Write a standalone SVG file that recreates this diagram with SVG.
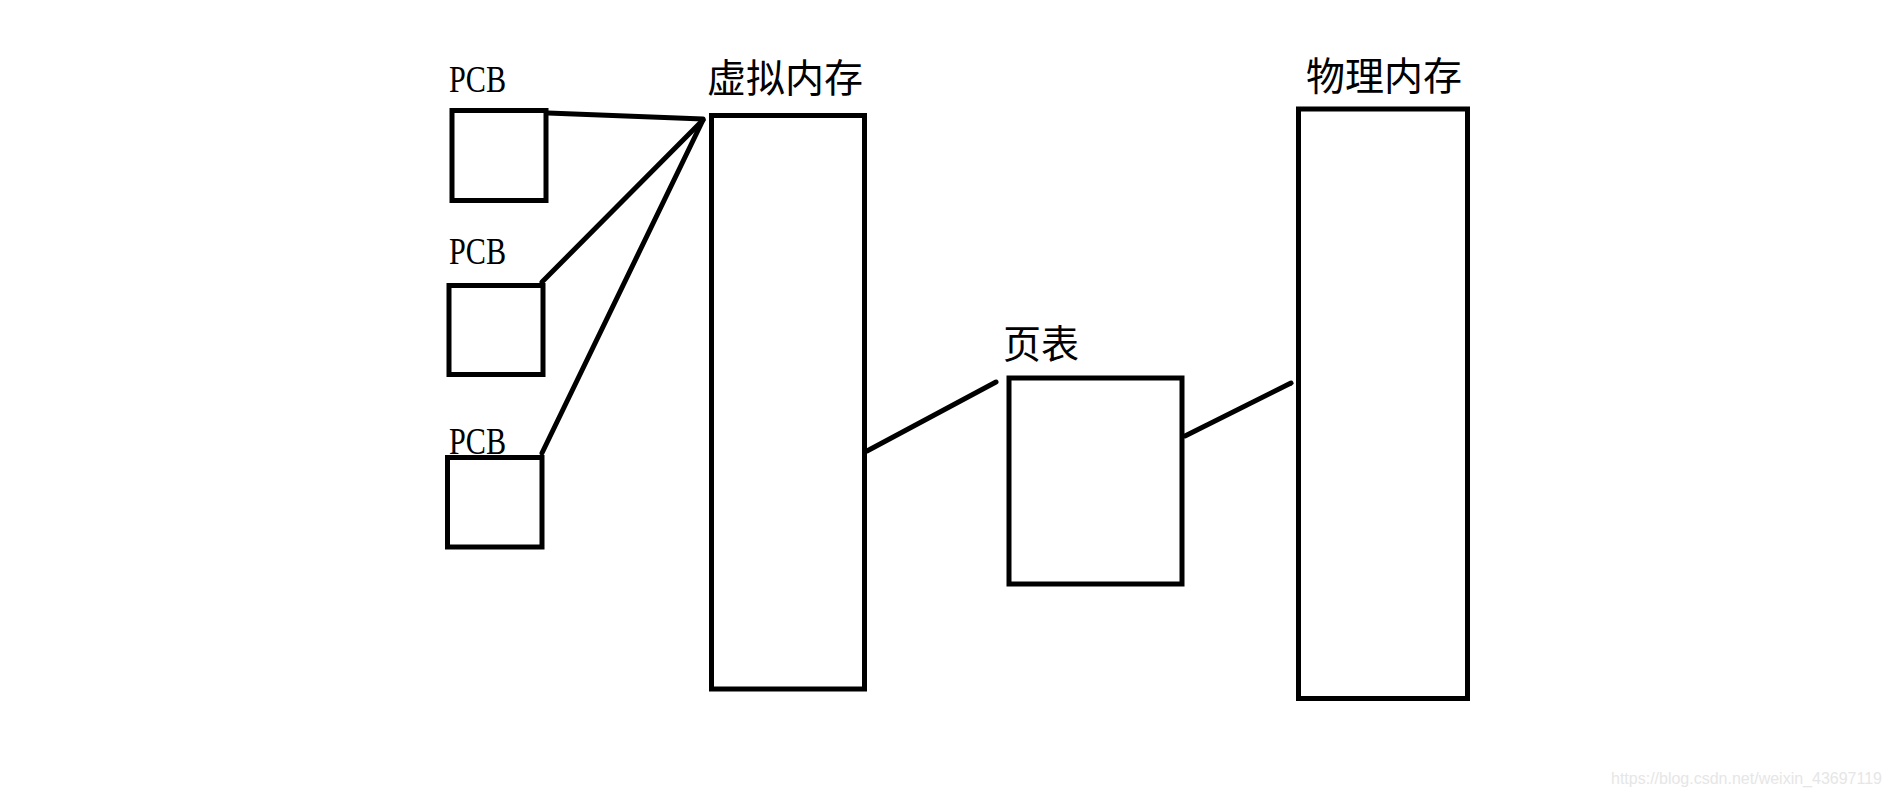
<svg xmlns="http://www.w3.org/2000/svg" width="1891" height="797" viewBox="0 0 1891 797">
<style>
.box{fill:none;stroke:#000;stroke-width:5}
.pcb{font-family:"Liberation Serif","Times New Roman",serif;font-size:37px;fill:#000}
.cjk{font-family:"Noto Sans CJK SC","Noto Sans",sans-serif;font-size:39px;fill:#000}
.conn{stroke:#000;stroke-width:5;stroke-linecap:round;fill:none}
.wm{font-family:"Liberation Sans",Arial,sans-serif;font-size:16px;fill:#e6e6e6}
</style>
<rect width="1891" height="797" fill="#fff"/>
<g id="pcb1">
<rect class="box" x="452" y="110.5" width="94" height="90"/>
<text class="pcb" x="449" y="91.5" textLength="57" lengthAdjust="spacingAndGlyphs">PCB</text>
</g>
<g id="pcb2">
<rect class="box" x="449" y="285.5" width="94" height="89"/>
<text class="pcb" x="449" y="263.5" textLength="57" lengthAdjust="spacingAndGlyphs">PCB</text>
</g>
<g id="pcb3">
<rect class="box" x="447.5" y="457.5" width="94.5" height="89.5"/>
<text class="pcb" x="449" y="453.5" textLength="57" lengthAdjust="spacingAndGlyphs">PCB</text>
</g>
<g id="virtual-memory">
<rect class="box" x="711.5" y="115.5" width="153" height="573.5"/>
<text class="cjk" x="707" y="92" textLength="156" lengthAdjust="spacingAndGlyphs">虚拟内存</text>
</g>
<g id="page-table">
<rect class="box" x="1009" y="378" width="173" height="206"/>
<text class="cjk" x="1003" y="358" textLength="76" lengthAdjust="spacingAndGlyphs">页表</text>
</g>
<g id="physical-memory">
<rect class="box" x="1298.5" y="109" width="169" height="589.5"/>
<text class="cjk" x="1306" y="90" textLength="156" lengthAdjust="spacingAndGlyphs">物理内存</text>
</g>
<g id="connectors">
<line class="conn" x1="548" y1="113" x2="703" y2="119"/>
<line class="conn" x1="542" y1="282" x2="703" y2="120"/>
<line class="conn" x1="542" y1="453" x2="703" y2="120"/>
<line class="conn" x1="867" y1="451" x2="996" y2="382"/>
<line class="conn" x1="1185" y1="436" x2="1291" y2="383"/>
</g>
<text class="wm" x="1611" y="784" textLength="271" lengthAdjust="spacingAndGlyphs">https://blog.csdn.net/weixin_43697119</text>
</svg>
